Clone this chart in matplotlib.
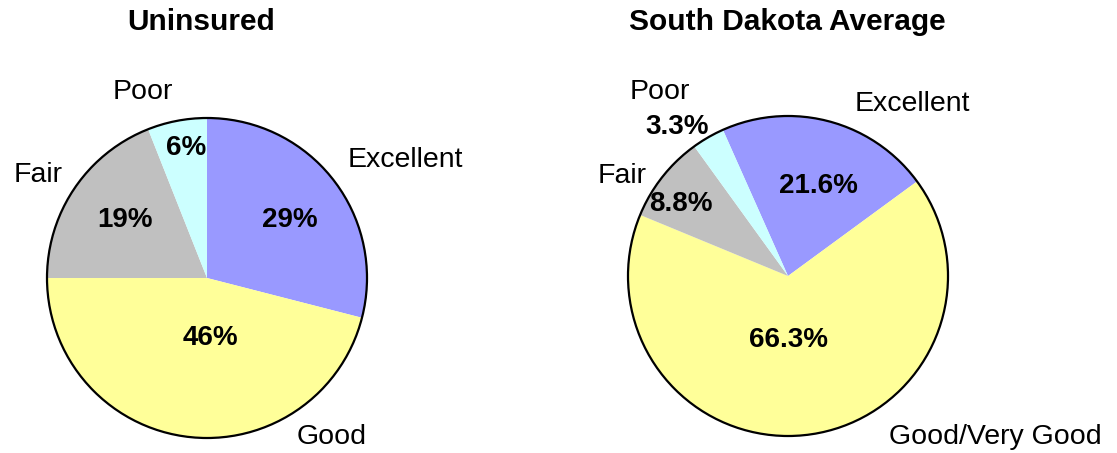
import matplotlib
matplotlib.use("Agg")
import matplotlib.pyplot as plt
from matplotlib.patches import Circle

plt.rcParams['font.family'] = ['Liberation Sans', 'DejaVu Sans']

categories = ["Excellent", "Good", "Fair", "Poor"]
uninsured = [29, 46, 19, 6]
sd_labels = ["Excellent", "Good/Very Good", "Fair", "Poor"]
sd_average = [21.6, 66.3, 8.8, 3.3]
colors = ["#9999FF", "#FFFF99", "#C0C0C0", "#CCFFFF"]

W, H = 1117, 453
fig = plt.figure(figsize=(W / 100, H / 100), dpi=100)
R = 160.0


def make_ax(x0, x1, cx, cy):
    ax = fig.add_axes([x0 / W, 0, (x1 - x0) / W, 1])
    ax.set_xlim((x0 - cx) / R, (x1 - cx) / R)
    ax.set_ylim((cy - H) / R, cy / R)
    ax.set_aspect('equal', adjustable='datalim')
    ax.axis('off')
    return ax


def P(px, py, cx, cy):
    return (px - cx) / R, (cy - py) / R


# Left pie
cx, cy = 207, 278
ax = make_ax(0, 560, cx, cy)
ax.pie(uninsured, colors=colors, startangle=90, counterclock=False,
       radius=1, wedgeprops=dict(linewidth=0))
ax.add_patch(Circle((0, 0), 1, fill=False, ec='black', lw=1.6))
ax.set_xlim((0 - cx) / R, (560 - cx) / R)
ax.set_ylim((cy - H) / R, cy / R)
ax.text(*P(201, 22, cx, cy), "Uninsured", ha='center', va='center', fontsize=21.5, fontweight='bold')
lab_pos = [(405, 160), (332, 437), (38, 175), (143, 92)]
pct_pos = [(290, 220), (210, 338), (125, 220), (186, 148)]
for name, v, lp, pp in zip(categories, uninsured, lab_pos, pct_pos):
    ax.text(*P(*lp, cx, cy), name, ha='center', va='center', fontsize=20.5)
    ax.text(*P(*pp, cx, cy), f"{v:.0f}%", ha='center', va='center', fontsize=20, fontweight='bold')

# Right pie
cx, cy = 788, 276
ax2 = make_ax(560, 1117, cx, cy)
ax2.pie(sd_average, colors=colors, startangle=114, counterclock=False,
        radius=1, wedgeprops=dict(linewidth=0))
ax2.add_patch(Circle((0, 0), 1, fill=False, ec='black', lw=1.6))
ax2.set_xlim((560 - cx) / R, (1117 - cx) / R)
ax2.set_ylim((cy - H) / R, cy / R)
ax2.text(*P(787, 22, cx, cy), "South Dakota Average", ha='center', va='center', fontsize=21.5, fontweight='bold')
lab_pos2 = [(912, 104), (995, 437), (622, 176), (660, 92)]
pct_pos2 = [(818, 186), (788, 340), (681, 204), (677, 127)]
for name, v, lp, pp in zip(sd_labels, sd_average, lab_pos2, pct_pos2):
    ax2.text(*P(*lp, cx, cy), name, ha='center', va='center', fontsize=20.5)
    ax2.text(*P(*pp, cx, cy), f"{v:.1f}%", ha='center', va='center', fontsize=20, fontweight='bold')

fig.savefig("out.png", dpi=100)
